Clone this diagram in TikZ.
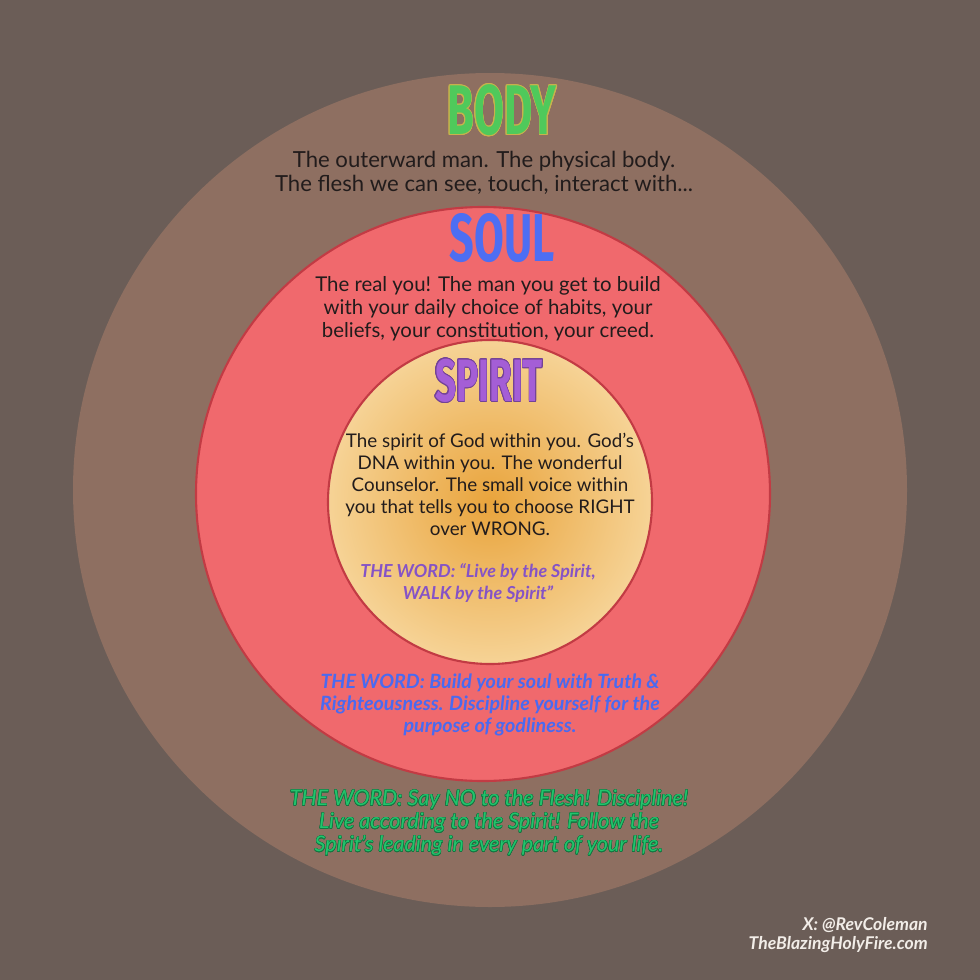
\documentclass[tikz,border=0pt]{standalone}
\usepackage{fontspec}
\setmainfont{Lato}
\newfontfamily\headfont{Fira Sans}
\usepackage{contour}
\usepackage{tikz}
\usetikzlibrary{shadings}

\definecolor{bgcol}{HTML}{6B5D57}
\definecolor{bodycol}{HTML}{8E6F61}
\definecolor{soulcol}{HTML}{F0696D}
\definecolor{rimcol}{HTML}{C23B44}
\definecolor{spiritin}{HTML}{E9A43C}
\definecolor{spiritout}{HTML}{F6D396}
\definecolor{bodyhead}{HTML}{4FC95B}
\definecolor{bodyrim}{HTML}{C9B24C}
\definecolor{soulhead}{HTML}{4D6EF2}
\definecolor{spirithead}{HTML}{A45ED6}
\definecolor{darktext}{HTML}{221C1C}
\definecolor{spiritword}{HTML}{8553C6}
\definecolor{soulword}{HTML}{4A6AF0}
\definecolor{bodyword}{HTML}{22C46C}
\definecolor{markcol}{HTML}{F2EDE8}

\tikzset{
  heading/.style={font=\headfont\bfseries\fontsize{40}{40}\selectfont, inner sep=0pt, xscale=0.62},
  plaintext/.style={align=center, text=darktext, inner sep=0pt},
  wordtext/.style={align=center, inner sep=0pt, font=\bfseries\itshape\fontsize{11}{12.6}\selectfont}
}

\begin{document}
\begin{tikzpicture}[x=0.02cm, y=-0.02cm]
    % 1. Background and the three nested circles
    \fill[bgcol] (0,0) rectangle (980,980);
    \fill[bodycol] (490,490) circle (417);
    \filldraw[fill=soulcol, draw=rimcol, line width=1.2pt] (483,494) circle (287);
    \shade[inner color=spiritin, outer color=spiritout] (490,502) circle (162);
    \draw[rimcol, line width=1.2pt] (490,502) circle (162);

    % 2. Headings
    \node[heading, text=bodyhead] (bodytitle) at (502,111) {\contourlength{0.6pt}\contour{bodyrim}{BODY}};
    \node[heading, text=soulhead, font=\headfont\bfseries\fontsize{38.5}{38.5}\selectfont, xscale=1.03] (soultitle) at (502,238) {SOUL};
    \node[heading, text=spirithead, font=\headfont\bfseries\fontsize{34}{34}\selectfont] (spirittitle) at (489,381)
        {\contourlength{0.5pt}\contour{spirithead!70!black}{SPIRIT}};

    % 3. Descriptions
    \node[plaintext, font=\fontsize{12.6}{13.6}\selectfont] (bodytext) at (484,173)
        {The outerward man. The physical body.\\The flesh we can see, touch, interact with...};
    \node[plaintext, font=\fontsize{11.6}{13.1}\selectfont] (soultext) at (488,309)
        {The real you! The man you get to build\\with your daily choice of habits, your\\beliefs, your constitution, your creed.};
    \node[plaintext, font=\fontsize{10.7}{12.5}\selectfont] (spirittext) at (490,484)
        {The spirit of God within you. God's\\DNA within you. The wonderful\\Counselor. The small voice within\\you that tells you to choose RIGHT\\over WRONG.};

    % 4. The word in each part
    \node[wordtext, text=spiritword, font=\bfseries\itshape\fontsize{10.2}{12.5}\selectfont] (spiritwordtext) at (478,583)
        {THE WORD: ``Live by the Spirit,\\WALK by the Spirit''};
    \node[wordtext, text=soulword, font=\bfseries\itshape\fontsize{11.2}{12.6}\selectfont] (soulwordtext) at (490,705)
        {THE WORD: Build your soul with Truth \&\\Righteousness. Discipline yourself for the\\purpose of godliness.};
    \node[wordtext, text=bodyword, font=\itshape\fontsize{12.2}{13.1}\selectfont] (bodywordtext) at (489,823)
        {\contourlength{0.25pt}\contour{bodyword!60!black}{THE WORD: Say NO to the Flesh! Discipline!}\\
         \contourlength{0.25pt}\contour{bodyword!60!black}{Live according to the Spirit! Follow the}\\
         \contourlength{0.25pt}\contour{bodyword!60!black}{Spirit's leading in every part of your life.}};

    % 5. Signature
    \node[align=right, anchor=east, text=markcol, inner sep=0pt, font=\bfseries\itshape\fontsize{10}{10.8}\selectfont] (signature) at (928,935)
        {X: @RevColeman\\TheBlazingHolyFire.com};
\end{tikzpicture}
\end{document}
